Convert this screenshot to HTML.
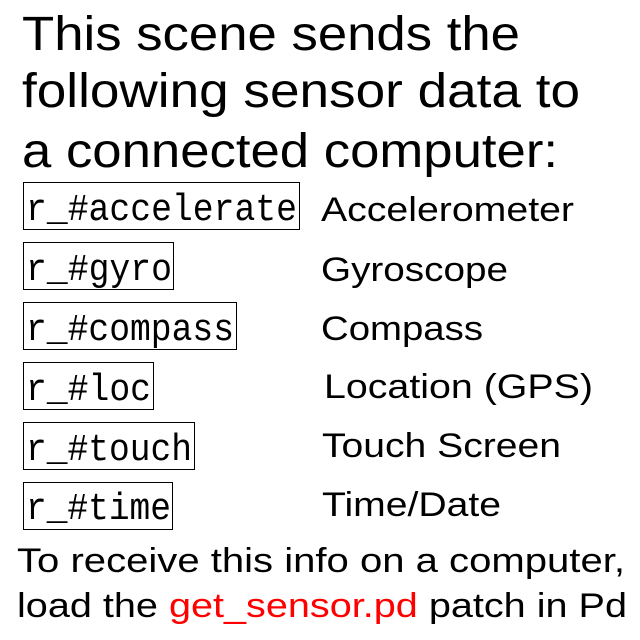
<!DOCTYPE html>
<html><head><meta charset="utf-8"><style>html,body{margin:0;padding:0;background:#fff}svg{display:block}</style></head>
<body>
<svg width="640" height="640" viewBox="0 0 640 640" xmlns="http://www.w3.org/2000/svg">
<rect width="640" height="640" fill="#fff"/>
<g font-family="Liberation Sans, Arial, sans-serif" fill="#000">
<text x="22" y="50" font-size="48" textLength="498" lengthAdjust="spacingAndGlyphs">This scene sends the</text>
<text x="22" y="107" font-size="48" textLength="558" lengthAdjust="spacingAndGlyphs">following sensor data to</text>
<text x="22" y="167" font-size="48" textLength="536" lengthAdjust="spacingAndGlyphs">a connected computer:</text>
<text x="321" y="221" font-size="34" textLength="253" lengthAdjust="spacingAndGlyphs">Accelerometer</text>
<text x="321" y="281" font-size="34" textLength="187" lengthAdjust="spacingAndGlyphs">Gyroscope</text>
<text x="321" y="340" font-size="34" textLength="162" lengthAdjust="spacingAndGlyphs">Compass</text>
<text x="324" y="398" font-size="34" textLength="269" lengthAdjust="spacingAndGlyphs">Location (GPS)</text>
<text x="322" y="457" font-size="34" textLength="239" lengthAdjust="spacingAndGlyphs">Touch Screen</text>
<text x="322" y="516" font-size="34" textLength="179" lengthAdjust="spacingAndGlyphs">Time/Date</text>
<text x="17" y="572" font-size="34" textLength="608" lengthAdjust="spacingAndGlyphs">To receive this info on a computer,</text>
<text x="17" y="617" font-size="34" textLength="610" lengthAdjust="spacingAndGlyphs">load the <tspan fill="#ff0000">get_sensor.pd</tspan> patch in Pd</text>
</g>
<g fill="none" stroke="#000" stroke-width="1">
<rect x="23.5" y="182.5" width="276" height="47"/>
<rect x="23.5" y="242.5" width="150" height="47"/>
<rect x="23.5" y="302.5" width="213" height="47"/>
<rect x="23.5" y="362.5" width="130" height="47"/>
<rect x="23.5" y="422.5" width="171" height="47"/>
<rect x="23.5" y="482.5" width="149" height="47"/>
</g>
<g font-family="Liberation Mono, DejaVu Sans Mono, monospace" fill="#000" font-size="38">
<text x="26" y="220" textLength="271" lengthAdjust="spacingAndGlyphs">r_#accelerate</text>
<text x="26" y="280" textLength="146" lengthAdjust="spacingAndGlyphs">r_#gyro</text>
<text x="26" y="340" textLength="208" lengthAdjust="spacingAndGlyphs">r_#compass</text>
<text x="26" y="400" textLength="125" lengthAdjust="spacingAndGlyphs">r_#loc</text>
<text x="26" y="460" textLength="166" lengthAdjust="spacingAndGlyphs">r_#touch</text>
<text x="26" y="519" textLength="145" lengthAdjust="spacingAndGlyphs">r_#time</text>
</g>
</svg>
</body></html>
